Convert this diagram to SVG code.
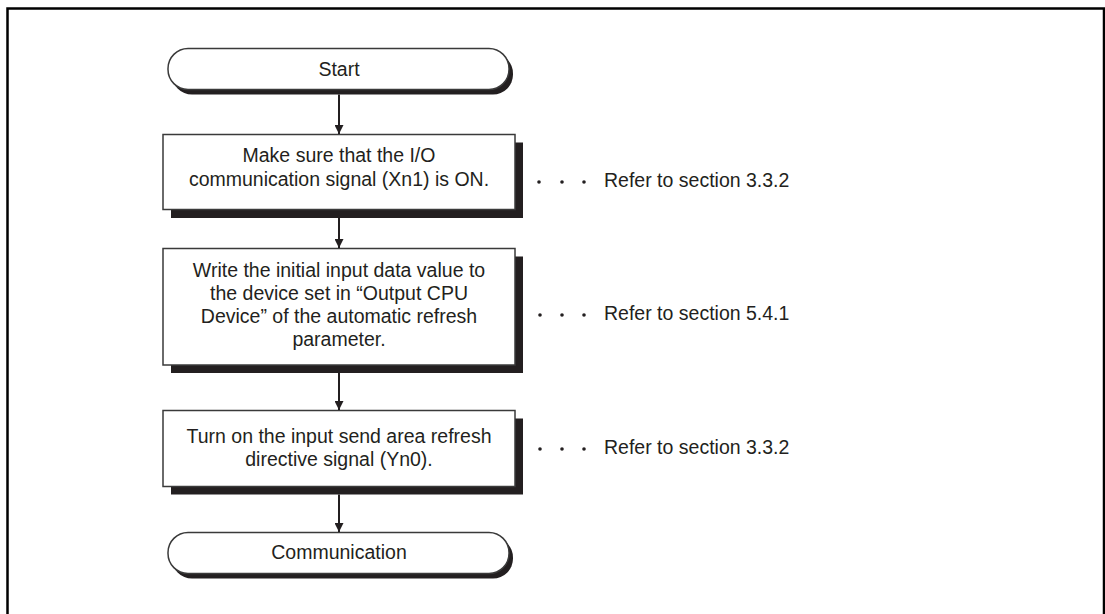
<svg xmlns="http://www.w3.org/2000/svg" width="1105" height="614" viewBox="0 0 1105 614">
<style>
text{font-family:"Liberation Sans",Arial,sans-serif;font-size:19.5px;fill:#231f20}
.c{text-anchor:middle}
.box{fill:#fff;stroke:#3a3a3a;stroke-width:1.5}
.sh{fill:#231f20}
.ln{stroke:#231f20;stroke-width:2;fill:none}
.dot{fill:#231f20}
</style>
<defs>
<marker id="ah" markerWidth="10" markerHeight="9" refX="9" refY="4.5" orient="auto" markerUnits="userSpaceOnUse">
<path d="M0,0 L9,4.5 L0,9 Z" fill="#231f20"/>
</marker>
</defs>
<rect width="1105" height="614" fill="#fff"/>
<path d="M7.5,614 V8.5 H1104 V614" fill="none" stroke="#000" stroke-width="2.5"/>

<g id="start">
<rect class="sh" x="172" y="53.5" width="341" height="41" rx="20"/>
<rect class="box" x="168" y="48.5" width="341" height="41" rx="20"/>
<text class="c" x="339" y="76">Start</text>
</g>

<g id="step1">
<rect class="sh" x="171" y="142.5" width="352" height="75.5"/>
<rect class="box" x="163" y="134.5" width="352" height="75"/>
<text class="c" x="339" y="162">Make sure that the I/O</text>
<text class="c" x="339" y="186">communication signal (Xn1) is ON.</text>
</g>

<g id="note1">
<circle class="dot" cx="539" cy="182" r="1.8"/>
<circle class="dot" cx="562" cy="182" r="1.8"/>
<circle class="dot" cx="584" cy="182" r="1.8"/>
<text x="604" y="187">Refer to section 3.3.2</text>
</g>

<g id="step2">
<rect class="sh" x="171" y="256.5" width="352" height="116.5"/>
<rect class="box" x="163" y="248.5" width="352" height="116.5"/>
<text class="c" x="339" y="277">Write the initial input data value to</text>
<text class="c" x="339" y="300">the device set in “Output CPU</text>
<text class="c" x="339" y="323">Device” of the automatic refresh</text>
<text class="c" x="339" y="346">parameter.</text>
</g>

<g id="note2">
<circle class="dot" cx="540" cy="315" r="1.8"/>
<circle class="dot" cx="562" cy="315" r="1.8"/>
<circle class="dot" cx="584" cy="315" r="1.8"/>
<text x="604" y="320">Refer to section 5.4.1</text>
</g>

<g id="step3">
<rect class="sh" x="171" y="418.5" width="352" height="76"/>
<rect class="box" x="163" y="410.5" width="352" height="76"/>
<text class="c" x="339" y="443">Turn on the input send area refresh</text>
<text class="c" x="339" y="466">directive signal (Yn0).</text>
</g>

<g id="note3">
<circle class="dot" cx="540" cy="449" r="1.8"/>
<circle class="dot" cx="562" cy="449" r="1.8"/>
<circle class="dot" cx="584" cy="449" r="1.8"/>
<text x="604" y="454">Refer to section 3.3.2</text>
</g>

<g id="end">
<rect class="sh" x="172" y="537.5" width="341" height="41" rx="20"/>
<rect class="box" x="168" y="532.5" width="341" height="41" rx="20"/>
<text class="c" x="339" y="559">Communication</text>
</g>

<g id="connectors">
<line class="ln" x1="339" y1="94.5" x2="339" y2="134" marker-end="url(#ah)"/>
<line class="ln" x1="339" y1="218" x2="339" y2="248" marker-end="url(#ah)"/>
<line class="ln" x1="339" y1="373" x2="339" y2="410" marker-end="url(#ah)"/>
<line class="ln" x1="339" y1="494.5" x2="339" y2="532" marker-end="url(#ah)"/>
</g>
</svg>
